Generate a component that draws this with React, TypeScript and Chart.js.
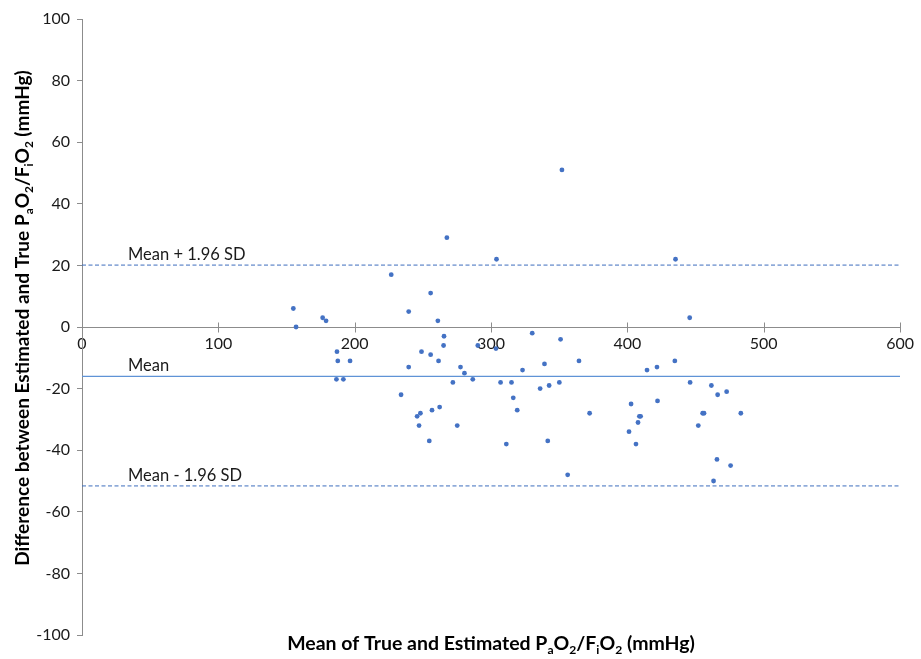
import React, { useEffect, useRef } from "react";
import { Chart, registerables } from "chart.js";

Chart.register(...registerables);

// Bland-Altman data: mean of true and estimated (x) vs difference (y)
const meanValues = [
  155, 157, 176.5, 179, 187, 187.6, 186.6, 191.7, 196.6, 226.8,
  234, 239.6, 239.6, 245.8, 247.2, 248.2, 249, 254.7, 255.7, 255.7,
  256.7, 261, 261.5, 262.3, 265.5, 265.2, 267.6, 272, 275.2, 277.6,
  280.5, 286.6, 290.3, 303.6, 304, 307, 311.2, 315, 316.3, 319.2,
  323.1, 330.2, 336, 339.2, 341.6, 342.6, 350.1, 351, 352, 356.2,
  364.5, 372.3, 401.2, 402.7, 406.3, 407.8, 408.8, 409.7, 414.4, 421.7,
  422.1, 434.8, 435.3, 445.7, 446, 452, 455.2, 456.2, 461.6, 463.2,
  465.7, 466.2, 472.8, 475.7, 483.2,
];
const diffValues = [
  6, 0, 3, 2, -8, -11, -17, -17, -11, 17,
  -22, 5, -13, -29, -32, -28, -8, -37, 11, -9,
  -27, 2, -11, -26, -3, -6, 29, -18, -32, -13,
  -15, -17, -6, -7, 22, -18, -38, -18, -23, -27,
  -14, -2, -20, -12, -37, -19, -18, -4, 51, -48,
  -11, -28, -34, -25, -38, -31, -29, -29, -14, -13,
  -24, -11, 22, 3, -18, -32, -28, -28, -19, -50,
  -43, -22, -21, -45, -28,
];

const upperLimit = 20.1;
const meanDiff = -16.0;
const lowerLimit = -51.6;
const limitLabels = ["Mean + 1.96 SD", "Mean", "Mean - 1.96 SD"];

const xTicks = [0, 100, 200, 300, 400, 500, 600];
const yTicks = [-100, -80, -60, -40, -20, 0, 20, 40, 60, 80, 100];

type Seg = { t: string; sub?: boolean };
const xTitleSegs: Seg[] = [
  { t: "Mean of True and Estimated P" },
  { t: "a", sub: true },
  { t: "O" },
  { t: "2", sub: true },
  { t: "/F" },
  { t: "i", sub: true },
  { t: "O" },
  { t: "2", sub: true },
  { t: " (mmHg)" },
];
const yTitleSegs: Seg[] = [
  { t: "Difference between Estimated and True P" },
  { t: "a", sub: true },
  { t: "O" },
  { t: "2", sub: true },
  { t: "/F" },
  { t: "i", sub: true },
  { t: "O" },
  { t: "2", sub: true },
  { t: " (mmHg)" },
];

const FAMILY = "Lato, 'Open Sans', sans-serif";

function richWidth(ctx: CanvasRenderingContext2D, segs: Seg[], size: number) {
  let w = 0;
  for (const s of segs) {
    const fs = s.sub ? size * 0.62 : size;
    ctx.font = `bold ${fs}px ${FAMILY}`;
    w += ctx.measureText(s.t).width;
  }
  return w;
}

function drawRich(ctx: CanvasRenderingContext2D, segs: Seg[], x: number, y: number, size: number) {
  let cx = x;
  for (const s of segs) {
    const fs = s.sub ? size * 0.62 : size;
    ctx.font = `bold ${fs}px ${FAMILY}`;
    ctx.fillText(s.t, cx, s.sub ? y + size * 0.22 : y);
    cx += ctx.measureText(s.t).width;
  }
}

const overlayPlugin = {
  id: "overlay",
  afterDraw(chart: any) {
    const ctx: CanvasRenderingContext2D = chart.ctx;
    const xs = chart.scales.x;
    const ys = chart.scales.y;
    const area = chart.chartArea;
    ctx.save();

    // crossing tick marks on x axis
    const y0 = Math.round(ys.getPixelForValue(0)) + 0.5;
    ctx.strokeStyle = "#8c8c8c";
    ctx.lineWidth = 1;
    xTicks.forEach((v) => {
      if (v === 0) return;
      const px = Math.round(xs.getPixelForValue(v)) + 0.5;
      ctx.beginPath();
      ctx.moveTo(px, y0 - 5);
      ctx.lineTo(px, y0 + 5);
      ctx.stroke();
    });

    // limit labels
    ctx.fillStyle = "#1a1a1a";
    ctx.font = `16.5px ${FAMILY}`;
    ctx.textAlign = "left";
    ctx.textBaseline = "alphabetic";
    const lx = area.left + 46;
    [upperLimit, meanDiff, lowerLimit].forEach((v, i) => {
      ctx.fillText(limitLabels[i], lx, ys.getPixelForValue(v) - 5);
    });

    // axis titles
    ctx.fillStyle = "#000";
    const xw0 = richWidth(ctx, xTitleSegs, 17);
    const xSize = (17 * 408) / xw0;
    const xw = richWidth(ctx, xTitleSegs, xSize);
    const cx = (area.left + area.right) / 2;
    drawRich(ctx, xTitleSegs, cx - xw / 2, chart.height - 9, xSize);

    const yw0 = richWidth(ctx, yTitleSegs, 17);
    const ySize = (17 * 496) / yw0;
    const yw = richWidth(ctx, yTitleSegs, ySize);
    ctx.translate(29, 318);
    ctx.rotate(-Math.PI / 2);
    drawRich(ctx, yTitleSegs, -yw / 2, 0, ySize);

    ctx.restore();
  },
};

export default function App() {
  const ref = useRef<HTMLCanvasElement | null>(null);

  useEffect(() => {
    if (!ref.current) return;
    const points = meanValues.map((m, i) => ({ x: m, y: diffValues[i] }));
    const span = [xTicks[0], xTicks[xTicks.length - 1]];
    const chart = new Chart(ref.current, {
      type: "scatter",
      data: {
        datasets: [
          {
            type: "line",
            data: span.map((x) => ({ x, y: upperLimit })),
            borderColor: "#3d6dbd",
            borderWidth: 1,
            borderDash: [4, 2.5],
            pointRadius: 0,
            fill: false,
          } as any,
          {
            type: "line",
            data: span.map((x) => ({ x, y: meanDiff })),
            borderColor: "#5f93d6",
            borderWidth: 1.2,
            pointRadius: 0,
            fill: false,
          } as any,
          {
            type: "line",
            data: span.map((x) => ({ x, y: lowerLimit })),
            borderColor: "#3d6dbd",
            borderWidth: 1,
            borderDash: [4, 2.5],
            pointRadius: 0,
            fill: false,
          } as any,
          {
            data: points,
            backgroundColor: "#4472c4",
            borderColor: "#4472c4",
            borderWidth: 0,
            pointRadius: 2.4,
          },
        ],
      },
      options: {
        animation: false,
        responsive: false,
        devicePixelRatio: 1,
        layout: { padding: { left: 0, right: 17, top: 19, bottom: 24 } },
        plugins: {
          legend: { display: false },
          tooltip: { enabled: false },
        },
        scales: {
          x: {
            type: "linear",
            position: { y: 0 } as any,
            min: xTicks[0],
            max: xTicks[xTicks.length - 1],
            afterBuildTicks: (s: any) => {
              s.ticks = xTicks.map((v) => ({ value: v }));
            },
            grid: { display: false, drawTicks: false },
            border: { display: true, color: "#8c8c8c", width: 1 },
            ticks: {
              padding: 7,
              color: "#1a1a1a",
              font: { family: FAMILY, size: 16 },
              maxRotation: 0,
            },
          },
          y: {
            type: "linear",
            position: "left",
            min: yTicks[0],
            max: yTicks[yTicks.length - 1],
            afterBuildTicks: (s: any) => {
              s.ticks = yTicks.map((v) => ({ value: v }));
            },
            afterFit: (s: any) => {
              s.width = 82;
            },
            grid: {
              display: true,
              drawOnChartArea: false,
              drawTicks: true,
              tickLength: 5,
              color: "#8c8c8c",
            },
            border: { display: true, color: "#8c8c8c", width: 1 },
            ticks: {
              padding: 7,
              color: "#1a1a1a",
              font: { family: FAMILY, size: 16 },
            },
          },
        },
      },
      plugins: [overlayPlugin],
    });
    return () => chart.destroy();
  }, []);

  return (
    <div style={{ position: "absolute", left: 0, top: 0, width: 921, height: 659 }}>
      <canvas ref={ref} width={921} height={659} style={{ display: "block" }} />
    </div>
  );
}
